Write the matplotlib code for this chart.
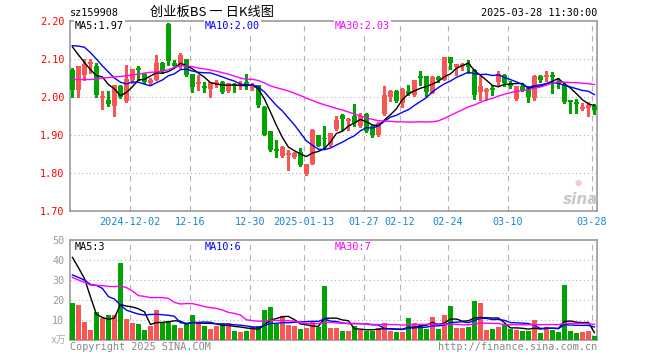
import numpy as np
import pandas as pd
import matplotlib
matplotlib.use("Agg")
import matplotlib.pyplot as plt

plt.rcParams['font.family'] = ['DejaVu Sans Mono', 'Noto Sans CJK SC']

# candles, 2024-11-18 .. 2025-03-28 (one per trading day)
opens = [2.070, 2.018, 2.059, 2.088, 2.082, 1.998, 1.993, 1.977, 2.030, 1.989,
         2.044, 2.074, 2.061, 2.037, 2.046, 2.089, 2.193, 2.090, 2.084, 2.100,
         2.060, 2.036, 2.028, 2.020, 2.037, 2.040, 2.017, 2.032, 2.031, 2.037,
         2.026, 2.032, 1.975, 1.910, 1.862, 1.844, 1.849, 1.842, 1.854, 1.798,
         1.825, 1.901, 1.893, 1.875, 1.916, 1.953, 1.938, 1.949, 1.923, 1.955,
         1.925, 1.901, 1.954, 2.000, 2.017, 1.984, 2.017, 2.004, 2.053, 2.054,
         2.011, 2.052, 2.046, 2.104, 2.080, 2.082, 2.087, 2.070, 2.012, 2.012,
         2.022, 2.039, 2.059, 2.033, 1.995, 2.030, 2.024, 1.997, 2.056, 2.053,
         2.058, 2.043, 2.032, 1.989, 1.988, 1.971, 1.970, 1.975]
highs = [2.076, 2.082, 2.100, 2.100, 2.089, 2.015, 2.015, 2.031, 2.032, 2.085,
         2.074, 2.082, 2.063, 2.050, 2.111, 2.092, 2.196, 2.098, 2.117, 2.100,
         2.060, 2.058, 2.040, 2.040, 2.045, 2.042, 2.038, 2.036, 2.043, 2.060,
         2.036, 2.032, 1.977, 1.910, 1.888, 1.870, 1.861, 1.856, 1.866, 1.825,
         1.916, 1.901, 1.923, 1.905, 1.949, 1.955, 1.946, 1.982, 1.958, 1.958,
         1.927, 1.933, 2.028, 2.019, 2.018, 2.024, 2.032, 2.046, 2.069, 2.056,
         2.054, 2.056, 2.106, 2.106, 2.088, 2.090, 2.097, 2.074, 2.054, 2.024,
         2.032, 2.068, 2.061, 2.041, 2.030, 2.037, 2.028, 2.059, 2.059, 2.068,
         2.065, 2.049, 2.037, 1.993, 1.994, 1.985, 1.988, 1.981]
lows = [2.000, 2.000, 2.046, 2.063, 2.000, 1.968, 1.977, 1.949, 1.998, 1.986,
        2.037, 2.046, 2.037, 2.035, 2.044, 2.063, 2.085, 2.079, 2.077, 2.055,
        2.014, 2.018, 2.014, 2.000, 2.027, 2.010, 2.012, 2.014, 2.020, 2.020,
        2.018, 1.975, 1.899, 1.857, 1.842, 1.842, 1.807, 1.839, 1.818, 1.796,
        1.825, 1.870, 1.863, 1.872, 1.914, 1.914, 1.914, 1.923, 1.921, 1.907,
        1.895, 1.898, 1.952, 1.989, 1.987, 1.974, 2.006, 2.002, 2.032, 2.002,
        2.011, 2.040, 2.045, 2.075, 2.058, 2.070, 2.062, 1.994, 1.993, 1.993,
        2.004, 2.028, 2.028, 2.024, 1.993, 2.015, 1.986, 1.993, 2.039, 2.041,
        2.010, 2.024, 1.983, 1.957, 1.959, 1.966, 1.950, 1.955]
closes = [2.018, 2.082, 2.088, 2.090, 2.004, 2.000, 1.982, 2.031, 2.000, 2.047,
          2.074, 2.072, 2.039, 2.044, 2.089, 2.069, 2.094, 2.082, 2.110, 2.058,
          2.027, 2.038, 2.027, 2.040, 2.038, 2.014, 2.036, 2.031, 2.032, 2.036,
          2.028, 1.978, 1.901, 1.861, 1.860, 1.868, 1.851, 1.853, 1.820, 1.825,
          1.914, 1.872, 1.890, 1.904, 1.940, 1.943, 1.940, 1.932, 1.949, 1.910,
          1.901, 1.932, 2.006, 2.017, 1.989, 2.021, 2.009, 2.044, 2.052, 2.012,
          2.053, 2.046, 2.104, 2.089, 2.086, 2.088, 2.080, 2.004, 2.028, 2.021,
          2.020, 2.061, 2.037, 2.032, 2.028, 2.019, 1.999, 2.056, 2.044, 2.057,
          2.052, 2.034, 1.988, 1.988, 1.982, 1.972, 1.979, 1.966]
volumes = [18.7, 17.5, 9.0, 5.0, 14.0, 11.0, 12.5, 12.5, 38.5, 10.5,
           8.5, 8.0, 5.0, 7.0, 15.0, 9.0, 9.5, 7.5, 6.0, 8.0,
           12.5, 8.5, 7.0, 5.5, 7.0, 8.5, 8.5, 4.5, 4.0, 4.5,
           7.0, 7.0, 15.0, 16.5, 8.0, 12.0, 7.5, 7.0, 5.5, 6.0,
           9.0, 6.5, 27.0, 6.0, 6.2, 4.5, 4.5, 7.0, 5.0, 4.5,
           4.5, 6.0, 8.5, 4.5, 4.0, 4.0, 11.0, 8.5, 7.5, 5.5,
           11.5, 5.5, 12.5, 17.0, 6.0, 6.0, 6.5, 19.5, 18.5, 5.0,
           5.5, 6.5, 7.8, 5.5, 5.0, 4.5, 4.5, 10.0, 3.5, 6.5,
           5.0, 4.0, 27.5, 4.5, 3.5, 4.0, 4.5, 2.0]

# moving average values at the left edge (they need days before the window)
ma5_head = [2.132, 2.111, 2.091, 2.072]
ma10_head = [2.135, 2.134, 2.131, 2.117, 2.100, 2.082, 2.066, 2.050, 2.039]
ma30_head = [2.046, 2.046, 2.046, 2.046, 2.047, 2.050, 2.051, 2.053, 2.054, 2.056,
             2.058, 2.060, 2.063, 2.065, 2.066, 2.068, 2.072, 2.078, 2.082, 2.082,
             2.080, 2.076, 2.074, 2.071, 2.068, 2.064, 2.060, 2.055, 2.050]
vma5_head = [41.3, 36.2, 30.8, 21.7]
vma10_head = [32.5, 31.3, 30.0, 27.8, 27.3, 25.8, 21.7, 20.5, 17.5]
vma30_head = [31.3, 30.0, 28.8, 27.5, 27.3, 27.2, 26.8, 26.7, 27.0, 26.2,
              24.5, 22.2, 21.8, 21.2, 21.2, 21.2, 20.8, 18.8, 18.0, 18.2,
              18.2, 17.5, 16.7, 16.2, 15.8, 15.0, 13.8, 13.3, 12.5]

tick_idx = [10, 20, 30, 39, 49, 55, 63, 73, 87]
tick_labels = ["2024-12-02", "12-16", "12-30", "2025-01-13", "01-27",
               "02-12", "02-24", "03-10", "03-28"]
price_ticks = [1.70, 1.80, 1.90, 2.00, 2.10, 2.20]
vol_ticks = [10, 20, 30, 40, 50]
price_ma_text = ["MA5:1.97", "MA10:2.00", "MA30:2.03"]
vol_ma_text = ["MA5:3", "MA10:6", "MA30:7"]

RED = "#fa5555"
GREEN = "#00a400"
GRID = "#b4b4b4"
BLUE_TXT = "#1a86d0"
MA_COLORS = ["#000000", "#0000ff", "#ff00ff"]


def with_head(series, n, head):
    m = series.rolling(n).mean().to_numpy()
    m[:n - 1] = head
    return m


o = np.array(opens); h = np.array(highs); l = np.array(lows); c = np.array(closes)
v = np.array(volumes)
x = np.arange(len(c))
cs = pd.Series(c)
vs = pd.Series(v)
price_ma = [with_head(cs, 5, ma5_head), with_head(cs, 10, ma10_head), with_head(cs, 30, ma30_head)]
vol_ma = [with_head(vs, 5, vma5_head), with_head(vs, 10, vma10_head), with_head(vs, 30, vma30_head)]

W, H = 660, 360
fig = plt.figure(figsize=(W / 100, H / 100), dpi=100)


def box(left, top, right, bottom):
    return [left / W, 1 - bottom / H, (right - left) / W, (bottom - top) / H]


ax1 = fig.add_axes(box(70, 21, 597, 211))
ax2 = fig.add_axes(box(70, 240, 597, 340))
xlim = (-0.4, -0.4 + 527 / 6)
vpos = np.array(tick_idx) - 0.4

for ax in (ax1, ax2):
    ax.set_xlim(*xlim)
    for s in ax.spines.values():
        s.set_color("#9a9a9a")
        s.set_linewidth(1.2)
    for p in vpos:
        ax.axvline(p, color=GRID, lw=0.8, ls=(0, (5, 4)), zorder=0)
    ax.tick_params(length=0)

# price panel
ax1.set_ylim(1.70, 2.20)
for p in price_ticks[1:-1]:
    ax1.axhline(p, color=GRID, lw=0.8, ls=(0, (1, 2.5)), zorder=0)
up = c >= o
col = np.where(up, RED, GREEN)
ax1.vlines(x, l, h, colors=col, lw=1, antialiased=False, zorder=2)
body = np.abs(c - o)
big = body >= 0.003
ax1.bar(x[big], body[big], 0.8, np.minimum(o, c)[big], color=col[big],
        linewidth=0, antialiased=False, zorder=3)
ax1.hlines(((o + c) / 2)[~big], x[~big] - 0.4, x[~big] + 0.4, colors=col[~big],
           lw=1.2, antialiased=False, zorder=3)
for m, mc in zip(price_ma, MA_COLORS):
    ax1.plot(x, m, color=mc, lw=1, zorder=4)
ax1.set_yticks(price_ticks, [f"{p:.2f}" for p in price_ticks], color="red", fontsize=7.3)
ax1.tick_params(axis="y", pad=4)
ax1.set_xticks(vpos, tick_labels, color=BLUE_TXT, fontsize=7.3)
ax1.tick_params(axis="x", pad=4)

# volume panel
ax2.set_ylim(0, 50)
for p in vol_ticks[:-1]:
    ax2.axhline(p, color=GRID, lw=0.8, ls=(0, (1, 2.5)), zorder=0)
ax2.bar(x, v, 0.8, color=col, linewidth=0, antialiased=False, zorder=3)
for m, mc in zip(vol_ma, MA_COLORS):
    ax2.plot(x, m, color=mc, lw=1, zorder=4)
ax2.set_xticks([])
ax2.set_yticks(vol_ticks, [str(t) for t in vol_ticks], color="#999999", fontsize=7.3)
ax2.tick_params(axis="y", pad=4)

# MA labels
for txt, xp, mc in zip(price_ma_text, [75, 205, 335], MA_COLORS):
    fig.text(xp / W, 1 - 26 / H, txt, color=mc, fontsize=7.3, va="center",
             bbox=dict(facecolor="white", edgecolor="none", pad=0.5), zorder=10)
for txt, xp, mc in zip(vol_ma_text, [75, 205, 335], MA_COLORS):
    fig.text(xp / W, 1 - 247 / H, txt, color=mc, fontsize=7.3, va="center",
             bbox=dict(facecolor="white", edgecolor="none", pad=0.5), zorder=10)

# header / footer
fig.text(70 / W, 1 - 13 / H, "sz159908", fontsize=7.3, va="center")
fig.text(150 / W, 1 - 12 / H, "创业板BS 一 日K线图", fontsize=9.5, va="center",
         family=["Noto Sans CJK SC", "DejaVu Sans"])
fig.text(597 / W, 1 - 13 / H, "2025-03-28 11:30:00", fontsize=7.3, va="center", ha="right")
fig.text(66 / W, 1 - 340 / H, "x万", fontsize=7, va="center", ha="right", color="#aaaaaa")
fig.text(70 / W, 1 - 347 / H, "Copyright 2025 SINA.COM", fontsize=7.3, va="center", color="#888888")
fig.text(597 / W, 1 - 347 / H, "http://finance.sina.com.cn", fontsize=7.3, va="center",
         ha="right", color="#888888")

# sina watermark
fig.text(578 / W, 1 - 182 / H, "●", fontsize=6, ha="center", va="center",
         color="#f6caca", family="DejaVu Sans")
fig.text(581 / W, 1 - 199 / H, "sina", fontsize=11, ha="center", va="center",
         color="#c8c8c8", weight="bold", style="italic", family="DejaVu Sans")

fig.savefig("out.png", dpi=100)
